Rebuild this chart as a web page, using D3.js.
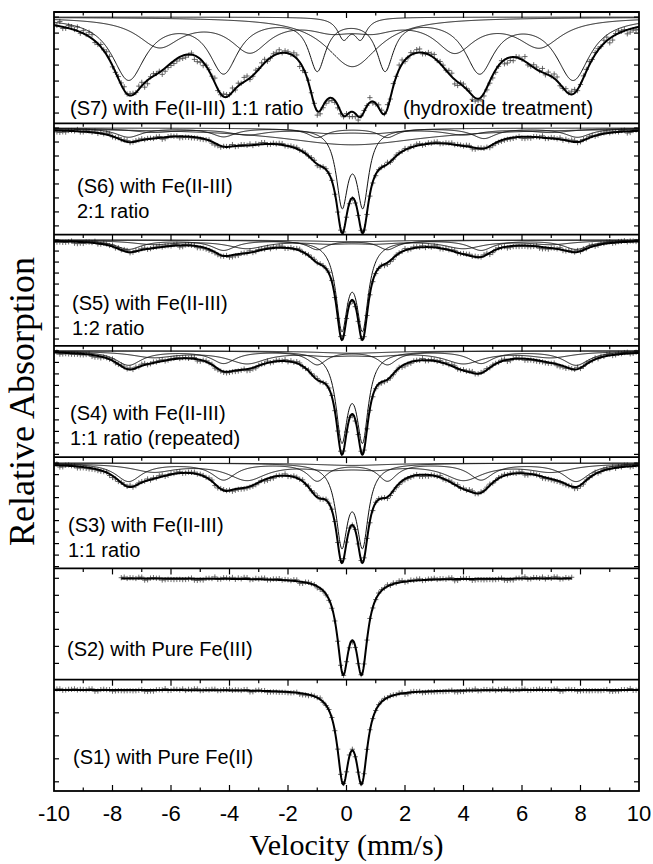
<!DOCTYPE html>
<html>
<head>
<meta charset="utf-8">
<script src="https://cdn.jsdelivr.net/npm/d3@7"></script>
<style>
  body { margin: 0; background: #fff; }
  svg text { fill: #000; }
</style>
</head>
<body>
<script>

// ---- data ----
// velocity axis
var xTicks = [-10, -8, -6, -4, -2, 0, 2, 4, 6, 8, 10];
var xTickLabels = ["-10", "-8", "-6", "-4", "-2", "0", "2", "4", "6", "8", "10"];

// panels, top to bottom
var panelIds = ["S7", "S6", "S5", "S4", "S3", "S2", "S1"];
// relative transmission (%) shown in each panel [low, high]
var panelYDomain = [[96.68, 100.16], [96.19, 100.17], [95.19, 100.25], [95.38, 100.22],
                    [95.42, 100.26], [97.02, 100.29], [97.80, 100.22]];
var panelVelRange = [[-10, 10], [-10, 10], [-10, 10], [-10, 10], [-10, 10], [-7.7, 7.7], [-10, 10]];
// scatter of the counts around the fit (%)
var panelNoise = [0.125, 0.054, 0.068, 0.065, 0.065, 0.044, 0.026];
var showComponents = [true, true, true, true, true, false, false];

var panelLabels = [
  ["(S7) with Fe(II-III) 1:1 ratio"],
  ["(S6) with Fe(II-III)", "2:1 ratio"],
  ["(S5) with Fe(II-III)", "1:2 ratio"],
  ["(S4) with Fe(II-III)", "1:1 ratio (repeated)"],
  ["(S3) with Fe(II-III)", "1:1 ratio"],
  ["(S2) with Pure Fe(III)"],
  ["(S1) with Pure Fe(II)"]
];

// fitted sub-spectra: each line is [position mm/s, depth %, half width mm/s]
var s7_sextetA = [[-7.45, 1.91, 0.7], [-4.2, 1.66, 0.6], [-1.0, 1.56, 0.35], [1.32, 1.56, 0.35], [4.55, 1.66, 0.6], [7.75, 1.91, 0.7]];
var s7_sextetB = [[-6.4, 0.88, 0.9], [-3.3, 1.0, 0.8], [-0.5, 0.31, 0.9], [0.9, 0.31, 0.9], [3.7, 1.0, 0.8], [6.6, 0.88, 0.9]];
var s7_doublet = [[-0.1, 0.63, 0.25], [0.48, 0.63, 0.25]];
var s7_broad = [[0.2, 1.55, 1.1]];

var s6_doublet = [[-0.15, 2.62, 0.24], [0.56, 2.62, 0.24]];
var s6_sextetA = [[-7.45, 0.32, 0.55], [-4.2, 0.30, 0.5], [-1.0, 0.32, 0.4], [1.4, 0.32, 0.4], [4.7, 0.36, 0.5], [7.9, 0.32, 0.55]];
var s6_sextetB = [[-6.6, 0.14, 0.9], [-3.4, 0.22, 0.8], [-0.6, 0.14, 0.9], [1.0, 0.14, 0.9], [4.0, 0.22, 0.8], [7.0, 0.14, 0.9]];
var s6_broad = [[0.2, 0.6, 3.0]];

var s5_doublet = [[-0.16, 3.78, 0.24], [0.55, 3.78, 0.24]];
var s5_sextetA = [[-7.45, 0.41, 0.55], [-4.2, 0.45, 0.5], [-1.0, 0.41, 0.4], [1.4, 0.41, 0.4], [4.6, 0.45, 0.5], [7.85, 0.41, 0.55]];
var s5_sextetB = [[-6.6, 0.18, 0.9], [-3.4, 0.36, 0.8], [-0.6, 0.12, 0.9], [1.0, 0.12, 0.9], [4.0, 0.36, 0.8], [7.0, 0.18, 0.9]];
var s5_broad = [[0.2, 0.08, 1.5]];

var s4_doublet = [[-0.16, 3.65, 0.24], [0.55, 3.65, 0.24]];
var s4_sextetA = [[-7.45, 0.61, 0.55], [-4.2, 0.52, 0.5], [-1.0, 0.57, 0.4], [1.4, 0.57, 0.4], [4.6, 0.52, 0.5], [7.85, 0.61, 0.55]];
var s4_sextetB = [[-6.6, 0.26, 0.9], [-3.4, 0.52, 0.8], [-0.6, 0.15, 0.9], [1.0, 0.15, 0.9], [4.0, 0.52, 0.8], [7.0, 0.26, 0.9]];
var s4_broad = [[0.2, 0.1, 1.5]];

var s3_doublet = [[-0.16, 3.38, 0.24], [0.55, 3.38, 0.24]];
var s3_sextetA = [[-7.45, 0.78, 0.55], [-4.2, 0.70, 0.5], [-1.0, 0.74, 0.4], [1.4, 0.74, 0.4], [4.6, 0.70, 0.5], [7.85, 0.78, 0.55]];
var s3_sextetB = [[-6.6, 0.35, 0.9], [-3.4, 0.70, 0.8], [-0.6, 0.20, 0.9], [1.0, 0.20, 0.9], [4.0, 0.70, 0.8], [7.0, 0.35, 0.9]];
var s3_broad = [[0.2, 0.1, 1.5]];

var s2_doublet = [[-0.12, 2.53, 0.24], [0.52, 2.53, 0.24]];
var s1_doublet = [[-0.12, 1.83, 0.24], [0.52, 1.83, 0.24]];

var panelComponents = [
  [s7_sextetA, s7_sextetB, s7_doublet, s7_broad],
  [s6_doublet, s6_sextetA, s6_sextetB, s6_broad],
  [s5_doublet, s5_sextetA, s5_sextetB, s5_broad],
  [s4_doublet, s4_sextetA, s4_sextetB, s4_broad],
  [s3_doublet, s3_sextetA, s3_sextetB, s3_broad],
  [s2_doublet],
  [s1_doublet]
];

// residuals of the measured points around the fit (in units of the panel scatter)
var residuals = [0.3, -0.8, 0.5, 1.0, -0.2, -1.1, 0.6, 0.1, -0.5, 0.9, -0.3, 0.4, -0.9, 0.2, 1.2,
                 -0.6, 0.0, 0.7, -1.0, 0.3, 0.8, -0.4, -0.7, 0.5, 0.1, -1.2, 0.6, 0.9, -0.2, -0.6,
                 0.4, 1.1, -0.8, 0.2, -0.3, 0.7, -0.5, 0.0, 1.0, -0.9, 0.3, -0.1, 0.6, -0.7, 0.8,
                 -0.4, 0.2, -1.0, 0.5, 0.1, -0.6, 0.9, -0.2];

// ---- layout ----
var w = 653, h = 864;
var plotLeft = 54, plotRight = 639, plotTop = 12, plotBottom = 791;
var panelH = (plotBottom - plotTop) / panelIds.length;
// label x, baseline offset from panel top
var labelPos = [[70, 103], [77, 70], [72, 75], [70, 74], [68, 75], [67, 88], [73, 84]];
var labelGap = 25;

var svg = d3.select("body").append("svg")
  .attr("width", w)
  .attr("height", h)
  .style("font-family", "'Liberation Sans', Arial, sans-serif");

var x = d3.scaleLinear().domain([-10, 10]).range([plotLeft, plotRight]);

var absorb = function(v, lines) {
  var s = 0;
  lines.forEach(function(l) {
    var u = (v - l[0]) / l[2];
    s += l[1] / (1 + u * u);
  });
  return s;
};

var markerPath = "M-2.6,0H2.6M0,-2.6V2.6";

panelIds.forEach(function(id, i) {
  var top = plotTop + i * panelH;
  var y = d3.scaleLinear().domain(panelYDomain[i]).range([top + panelH, top]);
  var comps = panelComponents[i];
  var vr = panelVelRange[i];

  var total = function(v) {
    var s = 0;
    comps.forEach(function(c) { s += absorb(v, c); });
    return 100 - s;
  };

  var g = svg.append("g").attr("class", "panel " + id);
  svg.append("clipPath").attr("id", "clip" + i)
    .append("rect").attr("x", plotLeft).attr("y", top).attr("width", plotRight - plotLeft).attr("height", panelH);
  var body = g.append("g").attr("clip-path", "url(#clip" + i + ")");

  // measured points
  var vel = d3.range(vr[0], vr[1] + 0.0001, 0.1);
  var pts = vel.map(function(v, j) {
    return [v, total(v) + panelNoise[i] * residuals[(j * 7 + i * 11) % residuals.length]];
  });
  body.selectAll("path.pt").data(pts).enter().append("path")
    .attr("class", "pt")
    .attr("d", markerPath)
    .attr("transform", function(d) { return "translate(" + x(d[0]) + "," + y(d[1]) + ")"; })
    .attr("stroke", "#444")
    .attr("stroke-width", 0.8)
    .attr("fill", "none");

  var fine = d3.range(vr[0], vr[1] + 0.0001, 0.02);
  var line = d3.line().x(function(d) { return x(d[0]); }).y(function(d) { return y(d[1]); });

  // sub-spectra
  if (showComponents[i]) {
    comps.forEach(function(c) {
      body.append("path")
        .datum(fine.map(function(v) { return [v, 100 - absorb(v, c)]; }))
        .attr("d", line)
        .attr("fill", "none")
        .attr("stroke", "#111")
        .attr("stroke-width", 1);
    });
  }

  // total fit
  body.append("path")
    .datum(fine.map(function(v) { return [v, total(v)]; }))
    .attr("d", line)
    .attr("fill", "none")
    .attr("stroke", "#000")
    .attr("stroke-width", 2);

  // ticks along the top edge of the panel
  var minor = d3.range(-9, 10, 1);
  g.selectAll("line.xt").data(minor).enter().append("line")
    .attr("x1", function(d) { return x(d); }).attr("x2", function(d) { return x(d); })
    .attr("y1", top).attr("y2", function(d) { return top + (d % 2 === 0 ? 6 : 3.5); })
    .attr("stroke", "#000").attr("stroke-width", 1.2);

  // y ticks on both sides (inside)
  var yt = d3.range(Math.ceil(panelYDomain[i][0] * 2) / 2, panelYDomain[i][1], 0.5);
  g.selectAll("line.yl").data(yt).enter().append("line")
    .attr("x1", plotLeft).attr("x2", plotLeft + 5)
    .attr("y1", function(d) { return y(d); }).attr("y2", function(d) { return y(d); })
    .attr("stroke", "#000").attr("stroke-width", 1.2);
  g.selectAll("line.yr").data(yt).enter().append("line")
    .attr("x1", plotRight - 5).attr("x2", plotRight)
    .attr("y1", function(d) { return y(d); }).attr("y2", function(d) { return y(d); })
    .attr("stroke", "#000").attr("stroke-width", 1.2);

  // panel boundary
  g.append("line")
    .attr("x1", plotLeft).attr("x2", plotRight)
    .attr("y1", top).attr("y2", top)
    .attr("stroke", "#000").attr("stroke-width", 1.8);

  // sample label
  panelLabels[i].forEach(function(t, k) {
    g.append("text")
      .attr("x", labelPos[i][0])
      .attr("y", top + labelPos[i][1] + k * labelGap)
      .style("font-size", "20px")
      .text(t);
  });
  if (i === 0) {
    g.append("text")
      .attr("x", 403).attr("y", top + labelPos[0][1])
      .style("font-size", "20px")
      .text("(hydroxide treatment)");
  }
});

// outer frame
svg.append("rect")
  .attr("x", plotLeft).attr("y", plotTop)
  .attr("width", plotRight - plotLeft).attr("height", plotBottom - plotTop)
  .attr("fill", "none").attr("stroke", "#000").attr("stroke-width", 1.8);

// bottom velocity axis, ticks pointing up
svg.selectAll("line.bt").data(d3.range(-9, 10, 1)).enter().append("line")
  .attr("x1", function(d) { return x(d); }).attr("x2", function(d) { return x(d); })
  .attr("y1", plotBottom).attr("y2", function(d) { return plotBottom - (d % 2 === 0 ? 6 : 3.5); })
  .attr("stroke", "#000").attr("stroke-width", 1.2);

svg.selectAll("text.xl").data(xTicks).enter().append("text")
  .attr("x", function(d) { return x(d); })
  .attr("y", 821)
  .attr("text-anchor", "middle")
  .style("font-size", "22px")
  .text(function(d, k) { return xTickLabels[k]; });

svg.append("text")
  .attr("x", (plotLeft + plotRight) / 2)
  .attr("y", 855)
  .attr("text-anchor", "middle")
  .style("font-family", "'Liberation Serif', 'Times New Roman', serif")
  .style("font-size", "30px")
  .text("Velocity (mm/s)");

svg.append("text")
  .attr("transform", "translate(34," + ((plotTop + plotBottom) / 2) + ") rotate(-90)")
  .attr("text-anchor", "middle")
  .style("font-family", "'Liberation Serif', 'Times New Roman', serif")
  .style("font-size", "36px")
  .text("Relative Absorption");

</script>
</body>
</html>
